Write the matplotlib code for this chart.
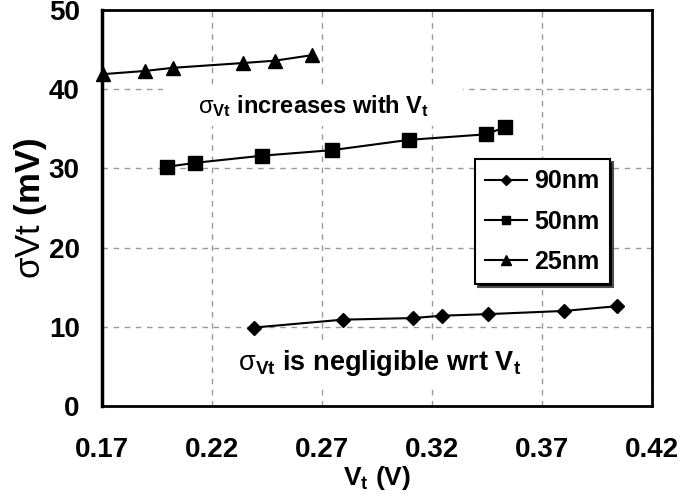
import matplotlib
matplotlib.use('Agg')
import matplotlib.pyplot as plt
import numpy as np

plt.rcParams['font.family'] = ['Liberation Sans', 'DejaVu Sans']
plt.rcParams['font.weight'] = 'bold'
plt.rcParams['axes.labelweight'] = 'bold'
plt.rcParams['mathtext.fontset'] = 'custom'
plt.rcParams['mathtext.rm'] = 'Liberation Sans:weight=normal'
plt.rcParams['mathtext.bf'] = 'Liberation Sans:weight=bold'
plt.rcParams['mathtext.it'] = 'Liberation Sans:italic'

# 数据
vt_90 = [0.239, 0.2795, 0.3114, 0.3245, 0.3455, 0.380, 0.404]
sig_90 = [9.9, 10.9, 11.1, 11.4, 11.6, 12.0, 12.6]
vt_50 = [0.1995, 0.2123, 0.2427, 0.2745, 0.3095, 0.3445, 0.3532]
sig_50 = [30.2, 30.7, 31.6, 32.3, 33.6, 34.3, 35.2]
vt_25 = [0.1705, 0.1895, 0.2023, 0.234, 0.2486, 0.2655]
sig_25 = [41.9, 42.3, 42.7, 43.3, 43.6, 44.3]

x_ticks = [0.17, 0.22, 0.27, 0.32, 0.37, 0.42]
y_ticks = [0, 10, 20, 30, 40, 50]

fig = plt.figure(figsize=(6.8, 4.99), dpi=100)
ax = fig.add_axes([0.15, 0.1864, 0.8088, 0.7936])

ax.plot(vt_90, sig_90, 'D-', color='black', lw=1.5, ms=7.5, label='90nm', zorder=3)
ax.plot(vt_50, sig_50, 's-', color='black', lw=1.5, ms=9.5, label='50nm', zorder=3)
ax.plot(vt_25, sig_25, '^-', color='black', lw=1.5, ms=10, label='25nm', zorder=3, clip_on=False)

ax.set_xlim(0.17, 0.42)
ax.set_ylim(0, 50)
ax.set_xticks(x_ticks)
ax.set_xticklabels([f'{v:.2f}' for v in x_ticks], fontweight='bold')
ax.set_yticks(y_ticks)
ax.set_yticklabels([str(v) for v in y_ticks], fontweight='bold')
ax.tick_params(axis='x', length=0, pad=22, labelsize=20)
ax.tick_params(axis='y', length=0, pad=16, labelsize=20)
ax.grid(True, color='#999999', ls=(0, (4, 4)), lw=1, zorder=0)
ax.set_axisbelow(True)
for s in ax.spines.values():
    s.set_linewidth(2)
    s.set_zorder(4)
ax.spines['left'].set_linewidth(2.5)

ax.set_xlabel(r'V$_{\mathbf{t}}$ (V)', fontsize=19, fontweight='bold', labelpad=1)
ax.set_ylabel(r'$\mathrm{\sigma Vt}$ (mV)', fontsize=25, fontweight='bold', labelpad=0)

# 注释文字（白底遮住网格线）
ax.text(0.266, 37.9, r'$\mathrm{\sigma}_{\mathbf{Vt}}$ increases with V$_{\mathbf{t}}$',
        fontsize=17, fontweight='bold', ha='center', va='center', zorder=2,
        bbox=dict(boxstyle='square,pad=1.45', fc='white', ec='none', mutation_aspect=0.2))
ax.text(0.296, 5.4, r'$\mathrm{\sigma}_{\mathbf{Vt}}$ is negligible wrt V$_{\mathbf{t}}$',
        fontsize=19.5, fontweight='bold', ha='center', va='center', zorder=2,
        bbox=dict(boxstyle='square,pad=0.35', fc='white', ec='none', mutation_aspect=0.9))

legend = ax.legend(loc='upper left', bbox_to_anchor=(0.678, 0.624),
                   prop={'size': 18, 'weight': 'bold'},
                   handlelength=1.65, handletextpad=0.3, labelspacing=0.65,
                   borderpad=0.42, borderaxespad=0, markerscale=0.65,
                   fancybox=False, shadow={'facecolor': 'black', 'alpha': 1})
frame = legend.get_frame()
frame.set_edgecolor('black')
frame.set_linewidth(1.5)
frame.set_alpha(1)
legend.set_zorder(5)

plt.savefig('out.png', dpi=100)
